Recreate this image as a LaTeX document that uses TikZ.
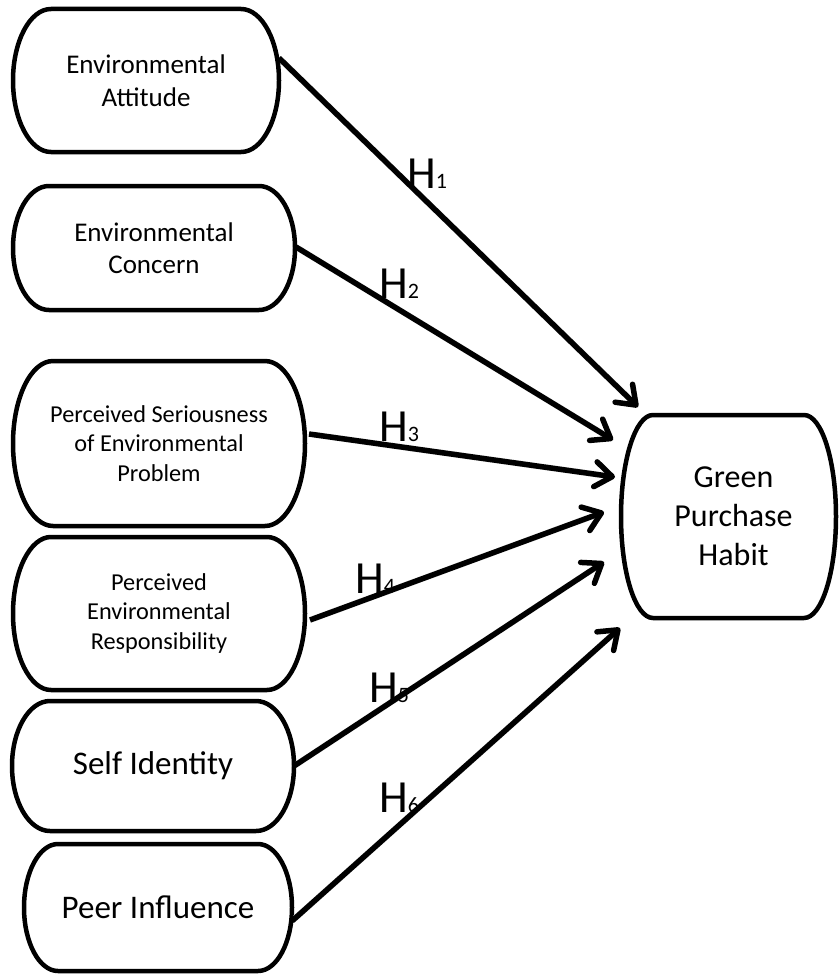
\documentclass[tikz,border=0pt]{standalone}
\usepackage{fontspec}
\setmainfont{Carlito}
\usetikzlibrary{arrows.meta}
\tikzset{
  pillline/.style={line width=4.5pt, line join=round},
  pilltext/.style={draw=none, inner sep=0pt, align=center, text=black},
  hyparrow/.style={line width=5.5pt, -{Straight Barb[length=17pt,width=25pt,round]}},
  hypshadow/.style={line width=6pt, black!12, shorten >=14pt, shorten <=4pt},
  hlab/.style={inner sep=0pt, anchor=base west},
}
% name, x1, y1, x2, y2, r, font size, baselineskip, text
\newcommand\pillshape[9]{%
  \pgfmathsetmacro\pyc{(#3+#5)/2}%
  \pgfmathsetmacro\pb{(#5-#3)/2}%
  \draw[pillline] ({#2+#6},#3) arc[start angle=270, end angle=90, x radius=#6, y radius=\pb]
    -- ({#4-#6},#5) arc[start angle=90, end angle=-90, x radius=#6, y radius=\pb] -- cycle;
  \node[pilltext, minimum width={#4-#2}, minimum height={#5-#3}, font={\fontsize{#7}{#8}\selectfont}] (#1) at ({(#2+#4)/2},\pyc)
    {#9};%
}
\newcommand\hlabel[4]{%
  \node[hlab] (#1) at (#2,#3) {\fontsize{46}{46}\selectfont H\fontsize{22}{22}\selectfont #4};%
}
\begin{document}
\begin{tikzpicture}[x=1pt,y=-1pt]
\useasboundingbox (0,0) rectangle (838,974);

\pillshape{ea}{13}{9}{279}{152}{38}{27}{32.5}{Environmental\\Attitude}
\pillshape{ec}{13}{186}{295}{310}{36}{27}{32.5}{Environmental\\Concern}
\pillshape{ps}{13}{361}{305}{526}{40}{24.3}{29.5}{Perceived Seriousness\\of Environmental\\Problem}
\pillshape{pr}{13}{537}{305}{690}{38}{24.3}{29.5}{Perceived\\Environmental\\Responsibility}
\pillshape{si}{12}{701}{294}{831}{38}{33}{40}{Self Identity}
\pillshape{pi}{24}{844}{292}{971}{34}{33}{40}{Peer Influence}
\pillshape{gph}{621}{415}{836}{618}{32}{32}{39}{\hspace*{10pt}Green\\\hspace*{10pt}Purchase\\\hspace*{10pt}Habit}

\coordinate (s1) at (279,58);  \coordinate (e1) at (638,407);
\coordinate (s2) at (296,247); \coordinate (e2) at (613,440);
\coordinate (s3) at (309,434); \coordinate (e3) at (615,477);
\coordinate (s4) at (310,620); \coordinate (e4) at (604,512);
\coordinate (s5) at (294,766); \coordinate (e5) at (604,562);
\coordinate (s6) at (292,921); \coordinate (e6) at (620,628);

\begin{scope}[shift={(2,3)}]
  \foreach \i in {1,...,6} \draw[hypshadow] (s\i) -- (e\i);
\end{scope}
\foreach \i in {1,...,6} \draw[hyparrow] (s\i) -- (e\i);

\hlabel{h1}{407}{188}{1}
\hlabel{h2}{379}{298}{2}
\hlabel{h3}{379}{441}{3}
\hlabel{h4}{355}{593}{4}
\hlabel{h5}{369}{702}{5}
\hlabel{h6}{379}{812}{6}
\end{tikzpicture}
\end{document}
